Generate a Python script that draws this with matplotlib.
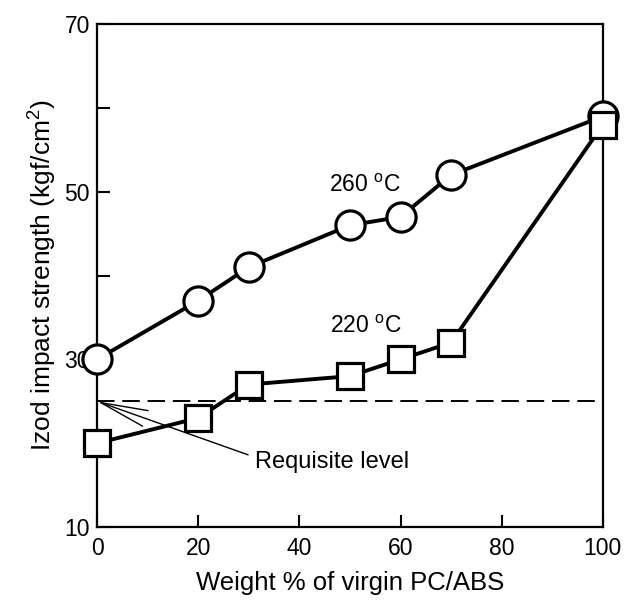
import numpy as np
import matplotlib
matplotlib.use("Agg")
import matplotlib.pyplot as plt

plt.rcParams['font.family'] = ['Liberation Sans', 'DejaVu Sans']
plt.rcParams['mathtext.fontset'] = 'custom'
plt.rcParams['mathtext.rm'] = 'Liberation Sans'
plt.rcParams['mathtext.it'] = 'Liberation Sans'

# data
x_260 = [0, 20, 30, 50, 60, 70, 100]
y_260 = [30, 37, 41, 46, 47, 52, 59]
x_220 = [0, 20, 30, 50, 60, 70, 100]
y_220 = [20, 23, 27, 28, 30, 32, 58]
requisite = 25

x_ticks = [0, 20, 40, 60, 80, 100]
y_ticks = [10, 30, 50, 70]
y_minor = [20, 40, 60]

fig = plt.figure(figsize=(6.26, 6.04), dpi=100)
ax = fig.add_axes([0.155, 0.1275, 0.808, 0.8325])

# requisite level line
ax.axhline(requisite, color='black', lw=1.4, dashes=(9, 4), zorder=1)

# 260 C circles, 220 C squares on top
ax.plot(x_260, y_260, color='black', lw=2.8, marker='o', ms=21,
        mfc='white', mec='black', mew=2.3, zorder=3, clip_on=False)
ax.plot(x_220, y_220, color='black', lw=2.8, marker='s', ms=19,
        mfc='white', mec='black', mew=2.3, zorder=4, clip_on=False)

ax.text(45.8, 50.7, '260 $^{\\rm o}$C', fontsize=16.5, va='center', ha='left')
ax.text(46.0, 33.9, '220 $^{\\rm o}$C', fontsize=16.5, va='center', ha='left')

ax.annotate('Requisite level', xy=(0, requisite), xytext=(31.2, 17.8),
            fontsize=17, va='center', ha='left',
            arrowprops=dict(arrowstyle='->,head_length=2.0,head_width=0.35',
                            color='black', lw=1.0, shrinkA=3, shrinkB=0,
                            relpos=(0, 0.7)))

ax.set_xlim(0, 100)
ax.set_ylim(10, 70)
ax.set_xticks(x_ticks)
ax.set_yticks(y_ticks)
ax.set_yticks(y_minor, minor=True)
ax.tick_params(axis='both', which='both', direction='in', length=9,
               width=1.5, labelsize=16.5, top=False, right=False)
ax.tick_params(axis='x', pad=7)
ax.tick_params(axis='y', pad=5)
for s in ax.spines.values():
    s.set_linewidth(1.6)

ax.set_xlabel('Weight % of virgin PC/ABS', fontsize=18.5, labelpad=8)
ax.set_ylabel('Izod impact strength (kgf/cm$^2$)', fontsize=19, labelpad=4)

fig.savefig('out.png', dpi=100)
